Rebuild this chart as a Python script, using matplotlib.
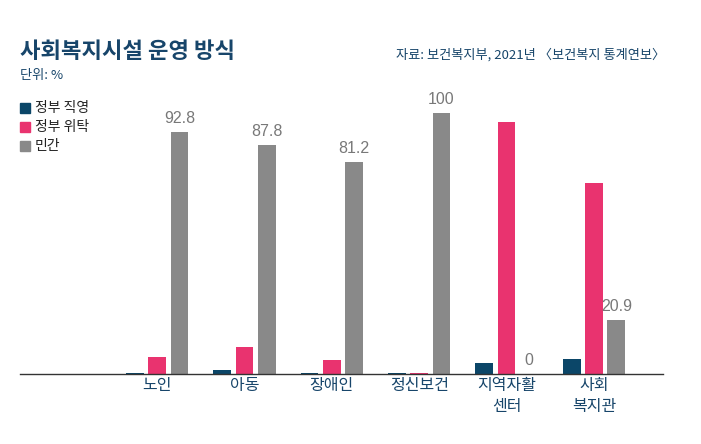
import matplotlib.pyplot as plt
import numpy as np

plt.rcParams['font.family'] = ['Noto Sans CJK KR', 'DejaVu Sans']

# Data (단위: %)
categories = ['노인', '아동', '장애인', '정신보건', '지역자활\n센터', '사회\n복지관']
gov_direct = [0.5, 1.7, 0.2, 0.2, 4.4, 5.8]
gov_consign = [6.4, 10.4, 5.5, 0.2, 96.5, 73.3]
private = [92.8, 87.8, 81.2, 100, 0, 20.9]
private_labels = ['92.8', '87.8', '81.2', '100', '0', '20.9']
series_names = ['정부 직영', '정부 위탁', '민간']

navy = '#0b4668'
pink = '#e9336f'
gray = '#898989'
textc = '#17456a'

fig = plt.figure(figsize=(7.01, 4.44), dpi=100)
ax = fig.add_axes([20/701, 70/444, 643/701, 260.7/444])

x = np.arange(len(categories))
w = 0.2025
pitch = 0.255
ax.bar(x - pitch, gov_direct, w, color=navy)
ax.bar(x, gov_consign, w, color=pink)
bars = ax.bar(x + pitch, private, w, color=gray)

for b, lab in zip(bars, private_labels):
    ax.text(b.get_x() + b.get_width()/2, b.get_height() + 2.3, lab,
            ha='center', va='bottom', fontsize=11.5, color='#787878',
            family=['Liberation Sans', 'DejaVu Sans'])

ax.set_xlim(-1.57, 5.79)
ax.set_ylim(0, 100)
for s in ['top', 'right', 'left']:
    ax.spines[s].set_visible(False)
ax.spines['bottom'].set_color('#333333')
ax.spines['bottom'].set_linewidth(1.0)
ax.set_yticks([])
ax.set_xticks(x)
ax.set_xticklabels(categories, fontsize=11.5, color=textc, linespacing=1.35)
ax.tick_params(axis='x', length=0, pad=2)

# Titles
fig.text(20/701, 1 - 52/444, '사회복지시설 운영 방식', fontsize=16, fontweight='bold',
         color=textc, va='center', ha='left')
fig.text(20/701, 1 - 76/444, '단위: %', fontsize=9.5, color=textc, va='center', ha='left')
fig.text(665/701, 1 - 55/444, '자료: 보건복지부, 2021년 〈보건복지 통계연보〉', fontsize=9.5,
         color=textc, va='center', ha='right')

# Legend
for i, (name, c) in enumerate(zip(series_names, [navy, pink, gray])):
    yc = 1 - (108 + 19*i)/444
    fig.patches.append(plt.Rectangle((20/701, yc - 5/444), 10/701, 10/444,
                                     transform=fig.transFigure, color=c))
    fig.text(35/701, yc, name, fontsize=10, color='#222222', va='center', ha='left')

fig.savefig('out.png', dpi=100)
